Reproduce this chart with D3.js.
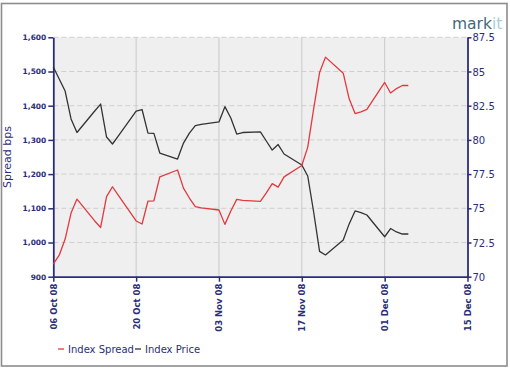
<!DOCTYPE html>
<html><head><meta charset="utf-8">
<script src="https://cdn.jsdelivr.net/npm/d3@7"></script>
<style>
html,body{margin:0;padding:0;background:#fff;}
svg{display:block;}
</style></head>
<body>
<svg id="chart" width="510" height="369"></svg>
<script>
const dates = ["2008-10-06","2008-10-07","2008-10-08","2008-10-09","2008-10-10",
"2008-10-13","2008-10-14","2008-10-15","2008-10-16","2008-10-17",
"2008-10-20","2008-10-21","2008-10-22","2008-10-23","2008-10-24",
"2008-10-27","2008-10-28","2008-10-29","2008-10-30","2008-10-31",
"2008-11-03","2008-11-04","2008-11-05","2008-11-06","2008-11-07",
"2008-11-10","2008-11-11","2008-11-12","2008-11-13","2008-11-14",
"2008-11-17","2008-11-18","2008-11-19","2008-11-20","2008-11-21",
"2008-11-24","2008-11-25","2008-11-26","2008-11-27","2008-11-28",
"2008-12-01","2008-12-02","2008-12-03","2008-12-04","2008-12-05"];

const indexSpread = [937,963,1010,1086,1127,
1063,1044,1134,1163,1138,
1063,1054,1121,1122,1192,
1212,1159,1130,1105,1101,
1095,1053,1092,1126,1123,
1120,1145,1172,1162,1192,
1225,1279,1391,1497,1542,
1495,1420,1377,1382,1389,
1468,1437,1450,1459,1459];

const indexPrice = [85.33,84.45,83.57,81.53,80.54,
82.11,82.62,80.21,79.70,80.30,
82.11,82.22,80.50,80.48,79.04,
78.60,79.77,80.50,81.05,81.14,
81.31,82.43,81.60,80.43,80.54,
80.58,79.92,79.26,79.66,78.97,
78.17,77.36,74.73,71.85,71.59,
72.69,73.86,74.81,74.69,74.51,
72.92,73.52,73.27,73.12,73.12];

const leftTicks = [900,1000,1100,1200,1300,1400,1500,1600];
const rightTicks = [70,72.5,75,77.5,80,82.5,85,87.5];
const xTickLabels = ["2008-10-06","2008-10-20","2008-11-03","2008-11-17","2008-12-01","2008-12-15"];
const seriesNames = ["Index Spread","Index Price"];
const seriesColors = ["#e2393f","#333333"];

const parse = d3.timeParse("%Y-%m-%d");
const dts = dates.map(parse);
const xTicks = xTickLabels.map(parse);

const svg = d3.select("#chart");
const L = 53.3, R = 467.5, T = 37.3, B = 276.7;
const navy = "#2b2d78";

const x = d3.scaleTime().domain([xTicks[0], xTicks[xTicks.length-1]]).range([L, R]);
const yL = d3.scaleLinear().domain([900,1600]).range([B, T]);
const yR = d3.scaleLinear().domain([70,87.5]).range([B, T]);

// outer frame
svg.append("rect").attr("x",1.5).attr("y",3.5).attr("width",505.5).attr("height",362.5)
  .attr("fill","#fff").attr("stroke","#8c8c8c").attr("stroke-width",1.6);

// plot bg
svg.append("rect").attr("x",L).attr("y",T).attr("width",R-L).attr("height",B-T).attr("fill","#efefef");

// vertical grid
svg.append("g").selectAll("line").data(xTicks.slice(1,-1)).join("line")
  .attr("x1",d=>x(d)).attr("x2",d=>x(d)).attr("y1",T).attr("y2",B)
  .attr("stroke","#c9c9c9").attr("stroke-width",1);
// horizontal dashed grid
svg.append("g").selectAll("line").data(leftTicks.slice(1)).join("line")
  .attr("x1",L).attr("x2",R).attr("y1",d=>yL(d)).attr("y2",d=>yL(d))
  .attr("stroke","#cfcfcf").attr("stroke-width",1).attr("stroke-dasharray","5,3");

// axes
const fmtR = d => (d % 1 ? d.toFixed(1) : String(d));
const gL = svg.append("g").attr("transform",`translate(${L},0)`)
  .call(d3.axisLeft(yL).tickValues(leftTicks).tickFormat(d3.format(",")).tickSize(5).tickSizeOuter(0).tickPadding(2));
const gR = svg.append("g").attr("transform",`translate(${R},0)`)
  .call(d3.axisRight(yR).tickValues(rightTicks).tickFormat(fmtR).tickSize(4).tickSizeOuter(0).tickPadding(1));
const gB = svg.append("g").attr("transform",`translate(0,${B})`)
  .call(d3.axisBottom(x).tickValues(xTicks).tickFormat(d3.timeFormat("%d %b %y")).tickSize(5).tickSizeOuter(0));

[gL,gR,gB].forEach(g=>{
  g.select(".domain").attr("stroke",navy).attr("stroke-width",1.8);
  g.selectAll(".tick line").attr("stroke",navy).attr("stroke-width",1.5);
  g.selectAll("text").attr("fill",navy);
});
gL.selectAll("text").attr("font-family","DejaVu Sans").attr("font-size","7.5px").attr("font-weight","bold");
gR.selectAll("text").attr("font-family","DejaVu Sans").attr("font-size","10px").attr("dy","0.35em");
gB.selectAll("text").attr("font-family","DejaVu Sans").attr("font-size","8.5px").attr("font-weight","bold")
  .attr("text-anchor","end").attr("transform","rotate(-90)").attr("x",-7).attr("y",0).attr("dy","0.35em");

// lines
const lineL = d3.line().x((d,i)=>x(dts[i])).y(d=>yL(d));
const lineR = d3.line().x((d,i)=>x(dts[i])).y(d=>yR(d));
svg.append("path").datum(indexPrice).attr("d",lineR).attr("fill","none")
  .attr("stroke",seriesColors[1]).attr("stroke-width",1.3).attr("stroke-linejoin","round");
svg.append("path").datum(indexSpread).attr("d",lineL).attr("fill","none")
  .attr("stroke",seriesColors[0]).attr("stroke-width",1.3).attr("stroke-linejoin","round");

// y label
svg.append("text").attr("transform","translate(11,157) rotate(-90)")
  .attr("text-anchor","middle").attr("font-family","DejaVu Sans").attr("font-size","11px")
  .attr("fill",navy).text("Spread bps");

// legend
const leg = svg.append("g").attr("font-family","DejaVu Sans").attr("font-size","10px");
const legX = [58, 135];
seriesNames.forEach((n,i)=>{
  leg.append("line").attr("x1",legX[i]).attr("x2",legX[i]+6).attr("y1",349).attr("y2",349)
    .attr("stroke",seriesColors[i]).attr("stroke-width",1.3);
  leg.append("text").attr("x",legX[i]+10).attr("y",353).attr("fill",navy).text(n);
});

// logo
const logo = svg.append("text").attr("x",452).attr("y",29).attr("font-family","DejaVu Sans")
  .attr("font-size","15.5px");
logo.append("tspan").attr("fill","#3f6a7c").text("mark");
logo.append("tspan").attr("fill","#a9cfd8").text("it");
</script>
</body></html>
